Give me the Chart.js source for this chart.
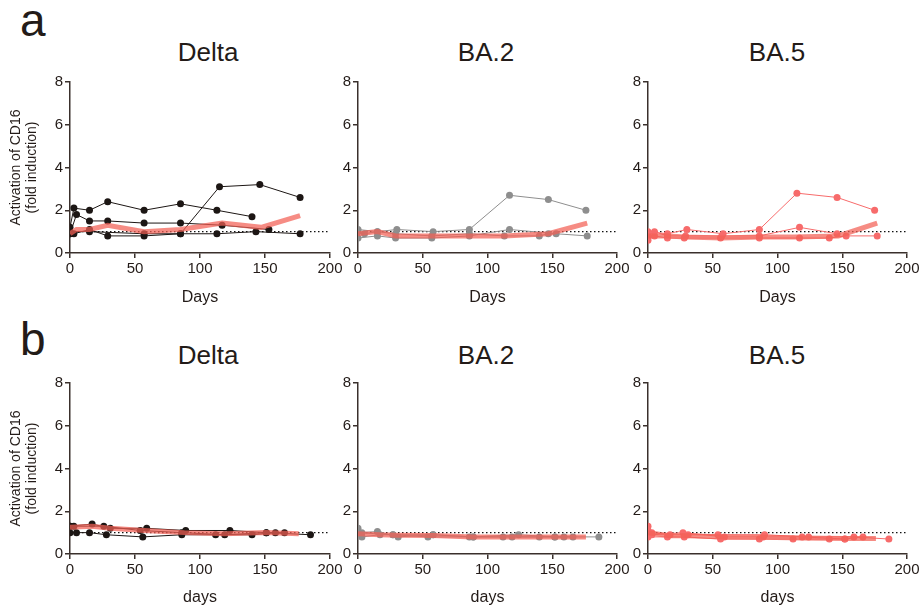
<!DOCTYPE html>
<html>
<head>
<title>Activation of CD16 over time</title>
<script src="https://cdn.jsdelivr.net/npm/chart.js"></script>
<style>
  html, body { margin: 0; padding: 0; background: #fff; overflow: hidden; }
  body { width: 922px; height: 610px; position: relative; font-family: "Liberation Sans", Arial, sans-serif; color: #231b18; }
  canvas { position: absolute; }
  .letter { position: absolute; font-size: 46px; line-height: 1; }
  .ptitle { position: absolute; width: 260px; text-align: center; font-size: 26px; line-height: 1; }
</style>
</head>
<body>
<div class="letter" style="left:20px; top:-3px;">a</div>
<div class="letter" style="left:20px; top:316px;">b</div>
<div class="ptitle" style="left:78px; top:39px;">Delta</div>
<div class="ptitle" style="left:356px; top:39px;">BA.2</div>
<div class="ptitle" style="left:647px; top:39px;">BA.5</div>
<div class="ptitle" style="left:78px; top:342px;">Delta</div>
<div class="ptitle" style="left:356px; top:342px;">BA.2</div>
<div class="ptitle" style="left:647px; top:342px;">BA.5</div>

<canvas id="aDelta" style="left:0px; top:70px;" width="350" height="245"></canvas>
<canvas id="aBA2" style="left:320px; top:70px;" width="320" height="245"></canvas>
<canvas id="aBA5" style="left:610px; top:70px;" width="312" height="245"></canvas>
<canvas id="bDelta" style="left:0px; top:371px;" width="350" height="239"></canvas>
<canvas id="bBA2" style="left:320px; top:371px;" width="320" height="239"></canvas>
<canvas id="bBA5" style="left:610px; top:371px;" width="312" height="239"></canvas>

<script>
// x ticks / y ticks
var dayTicks = [0, 50, 100, 150, 200];
var foldTicks = [0, 2, 4, 6, 8];
// dotted reference line at fold induction = 1
var refDays = [0, 200];
var refVals = [1, 1];

// ---- a: Delta ----
var aDeltaDays = [
    [0, 3, 15, 29, 57, 85, 113, 140],
    [0, 5, 15, 29, 57, 85, 117, 153],
    [0, 3, 15, 29, 57, 85, 115, 146, 177],
    [0, 15, 57, 85, 113, 143, 177]
];
var aDeltaVals = [
    [1.2, 2.1, 2.0, 2.4, 2.0, 2.3, 2.0, 1.7],
    [0.9, 1.8, 1.5, 1.5, 1.4, 1.4, 1.3, 1.1],
    [0.9, 0.9, 1.1, 0.8, 0.8, 0.9, 3.1, 3.2, 2.6],
    [1.0, 1.0, 0.9, 0.9, 0.9, 1.0, 0.9]
];
var aDeltaMeanDays = [0, 5, 15, 29, 57, 85, 117, 147, 177];
var aDeltaMeanVals = [0.9, 1.1, 1.1, 1.3, 1.0, 1.1, 1.4, 1.2, 1.75];

// ---- a: BA.2 ----
var aBA2Days = [
    [0, 15, 30, 58, 86, 117, 147, 176],
    [0, 15, 29, 57, 86, 117, 153, 177],
    [0, 5, 15, 29, 57, 86, 113, 140, 147]
];
var aBA2Vals = [
    [1.1, 1.0, 1.1, 1.0, 1.1, 2.7, 2.5, 2.0],
    [0.7, 0.8, 0.7, 0.7, 0.8, 1.1, 0.9, 0.8],
    [1.0, 0.9, 1.0, 0.9, 0.8, 0.9, 0.8, 0.8, 0.9]
];
var aBA2MeanDays = [0, 15, 29, 57, 86, 113, 147, 177];
var aBA2MeanVals = [0.9, 1.0, 0.8, 0.8, 0.8, 0.8, 0.9, 1.4];

// ---- a: BA.5 ----
var aBA5Days = [
    [0, 15, 30, 58, 86, 115, 146, 175],
    [0, 5, 15, 28, 56, 86, 117, 140, 153, 177],
    [0, 5, 15, 29, 57, 86, 117, 146]
];
var aBA5Vals = [
    [1.0, 0.9, 1.1, 0.9, 1.1, 2.8, 2.6, 2.0],
    [0.6, 0.8, 0.7, 0.7, 0.7, 0.7, 0.7, 0.7, 0.8, 0.8],
    [0.8, 1.0, 0.8, 0.8, 0.8, 0.8, 1.2, 0.9]
];
var aBA5MeanDays = [0, 5, 15, 29, 57, 86, 113, 147, 177];
var aBA5MeanVals = [0.8, 0.8, 0.8, 0.75, 0.7, 0.75, 0.75, 0.8, 1.4];

// ---- b: Delta ----
var bDeltaDays = [
    [0, 17, 31, 59, 89, 123, 151, 185],
    [0, 5, 15, 28, 56, 86, 112, 140, 158],
    [0, 3, 26, 54, 86, 119, 151, 165]
];
var bDeltaVals = [
    [1.3, 1.4, 1.2, 1.2, 1.1, 1.1, 1.0, 0.9],
    [1.0, 1.0, 1.0, 0.9, 0.8, 0.9, 0.9, 0.9, 1.0],
    [1.3, 1.3, 1.3, 1.1, 1.0, 0.9, 1.0, 1.0]
];
var bDeltaMeanDays = [0, 17, 31, 57, 88, 119, 151, 176];
var bDeltaMeanVals = [1.25, 1.3, 1.2, 1.1, 1.0, 0.95, 1.0, 0.95];

// ---- b: BA.2 ----
var bBA2Days = [
    [0, 3, 15, 31, 58, 89, 124, 152, 186],
    [0, 3, 17, 27, 54, 86, 112, 140, 159],
    [0, 27, 58, 89, 119, 152, 166]
];
var bBA2Vals = [
    [1.2, 1.0, 1.05, 0.8, 0.9, 0.8, 0.9, 0.8, 0.8],
    [1.0, 0.8, 0.9, 0.9, 0.8, 0.8, 0.8, 0.8, 0.8],
    [1.0, 0.9, 0.9, 0.8, 0.8, 0.8, 0.8]
];
var bBA2MeanDays = [0, 17, 31, 58, 89, 119, 152, 176];
var bBA2MeanVals = [0.95, 0.9, 0.88, 0.87, 0.8, 0.8, 0.8, 0.8];

// ---- b: BA.5 ----
var bBA5Days = [
    [0, 3, 17, 31, 54, 90, 124, 159, 186],
    [0, 15, 28, 56, 86, 112, 140, 152],
    [0, 3, 27, 59, 89, 119, 152, 166]
];
var bBA5Vals = [
    [1.3, 1.0, 0.9, 0.9, 0.9, 0.9, 0.8, 0.8, 0.7],
    [0.8, 0.8, 0.8, 0.7, 0.7, 0.7, 0.7, 0.7],
    [1.1, 0.9, 1.0, 0.8, 0.8, 0.8, 0.7, 0.8]
];
var bBA5MeanDays = [0, 17, 31, 59, 89, 119, 152, 176];
var bBA5MeanVals = [1.0, 0.85, 0.85, 0.8, 0.78, 0.75, 0.72, 0.72];

var axisColor = '#3a302c';
var textColor = '#231b18';
var black = '#1c1614';
var grey = '#8e8e8e';
var pink = '#f76b6b';
var meanColor = 'rgba(243, 95, 85, 0.72)';

function toPoints(xs, ys) {
    return xs.map(function (x, i) { return { x: x, y: ys[i] }; });
}

function makePanel(id, days, vals, meanDays, meanVals, color, opts) {
    var datasets = [];
    // mean curve drawn on top
    datasets.push({
        data: toPoints(meanDays, meanVals),
        borderColor: meanColor,
        borderWidth: 5,
        pointRadius: 0,
        order: 0
    });
    for (var i = 0; i < days.length; i++) {
        datasets.push({
            data: toPoints(days[i], vals[i]),
            borderColor: color,
            backgroundColor: color,
            borderWidth: 1,
            pointRadius: 3.5,
            pointBorderWidth: 0,
            order: 1
        });
    }
    datasets.push({
        data: toPoints(refDays, refVals),
        borderColor: '#111',
        borderWidth: 1.3,
        borderDash: [1.5, 2.5],
        pointRadius: 0,
        order: 2
    });

    new Chart(document.getElementById(id), {
        type: 'line',
        data: { datasets: datasets },
        options: {
            responsive: false,
            animation: false,
            layout: { padding: { top: 12, right: opts.padRight, left: 0, bottom: 0 } },
            plugins: { legend: { display: false }, tooltip: { enabled: false } },
            elements: { line: { tension: 0 } },
            scales: {
                x: {
                    type: 'linear',
                    min: 0, max: 200,
                    afterBuildTicks: function (s) { s.ticks = dayTicks.map(function (v) { return { value: v }; }); },
                    afterFit: function (s) { s.height = opts.xh; },
                    grid: { display: true, drawOnChartArea: false, drawTicks: true, tickLength: 5, color: axisColor, lineWidth: 1.5 },
                    border: { display: true, color: axisColor, width: 1.5 },
                    ticks: { color: textColor, font: { size: 15, family: 'Liberation Sans' }, padding: 2, maxRotation: 0 },
                    title: { display: true, text: opts.xTitle, color: textColor, font: { size: 16, family: 'Liberation Sans' }, padding: { top: 0, bottom: opts.xTitlePad } }
                },
                y: {
                    min: 0, max: 8,
                    afterBuildTicks: function (s) { s.ticks = foldTicks.map(function (v) { return { value: v }; }); },
                    afterFit: function (s) { s.width = opts.yw; },
                    grid: { display: true, drawOnChartArea: false, drawTicks: true, tickLength: 5, color: axisColor, lineWidth: 1.5 },
                    border: { display: true, color: axisColor, width: 1.5 },
                    ticks: { color: textColor, font: { size: 15, family: 'Liberation Sans' }, padding: 2 },
                    title: {
                        display: opts.yTitle,
                        text: ['Activation of CD16', '(fold induction)'],
                        color: textColor,
                        font: { size: 14, family: 'Liberation Sans', lineHeight: 1.15 },
                        padding: { top: 8, bottom: 0 }
                    }
                }
            }
        }
    });
}

var topOpts1 = { padRight: 20, yw: 70, xh: 62, xTitle: 'Days', xTitlePad: 8, yTitle: true };
var topOpts2 = { padRight: 23, yw: 38, xh: 62, xTitle: 'Days', xTitlePad: 8, yTitle: false };
var topOpts3 = { padRight: 15, yw: 38, xh: 62, xTitle: 'Days', xTitlePad: 8, yTitle: false };
var botOpts1 = { padRight: 20, yw: 70, xh: 56, xTitle: 'days', xTitlePad: 3, yTitle: true };
var botOpts2 = { padRight: 23, yw: 38, xh: 56, xTitle: 'days', xTitlePad: 3, yTitle: false };
var botOpts3 = { padRight: 15, yw: 38, xh: 56, xTitle: 'days', xTitlePad: 3, yTitle: false };

makePanel('aDelta', aDeltaDays, aDeltaVals, aDeltaMeanDays, aDeltaMeanVals, black, topOpts1);
makePanel('aBA2', aBA2Days, aBA2Vals, aBA2MeanDays, aBA2MeanVals, grey, topOpts2);
makePanel('aBA5', aBA5Days, aBA5Vals, aBA5MeanDays, aBA5MeanVals, pink, topOpts3);
makePanel('bDelta', bDeltaDays, bDeltaVals, bDeltaMeanDays, bDeltaMeanVals, black, botOpts1);
makePanel('bBA2', bBA2Days, bBA2Vals, bBA2MeanDays, bBA2MeanVals, grey, botOpts2);
makePanel('bBA5', bBA5Days, bBA5Vals, bBA5MeanDays, bBA5MeanVals, pink, botOpts3);
</script>
</body>
</html>
